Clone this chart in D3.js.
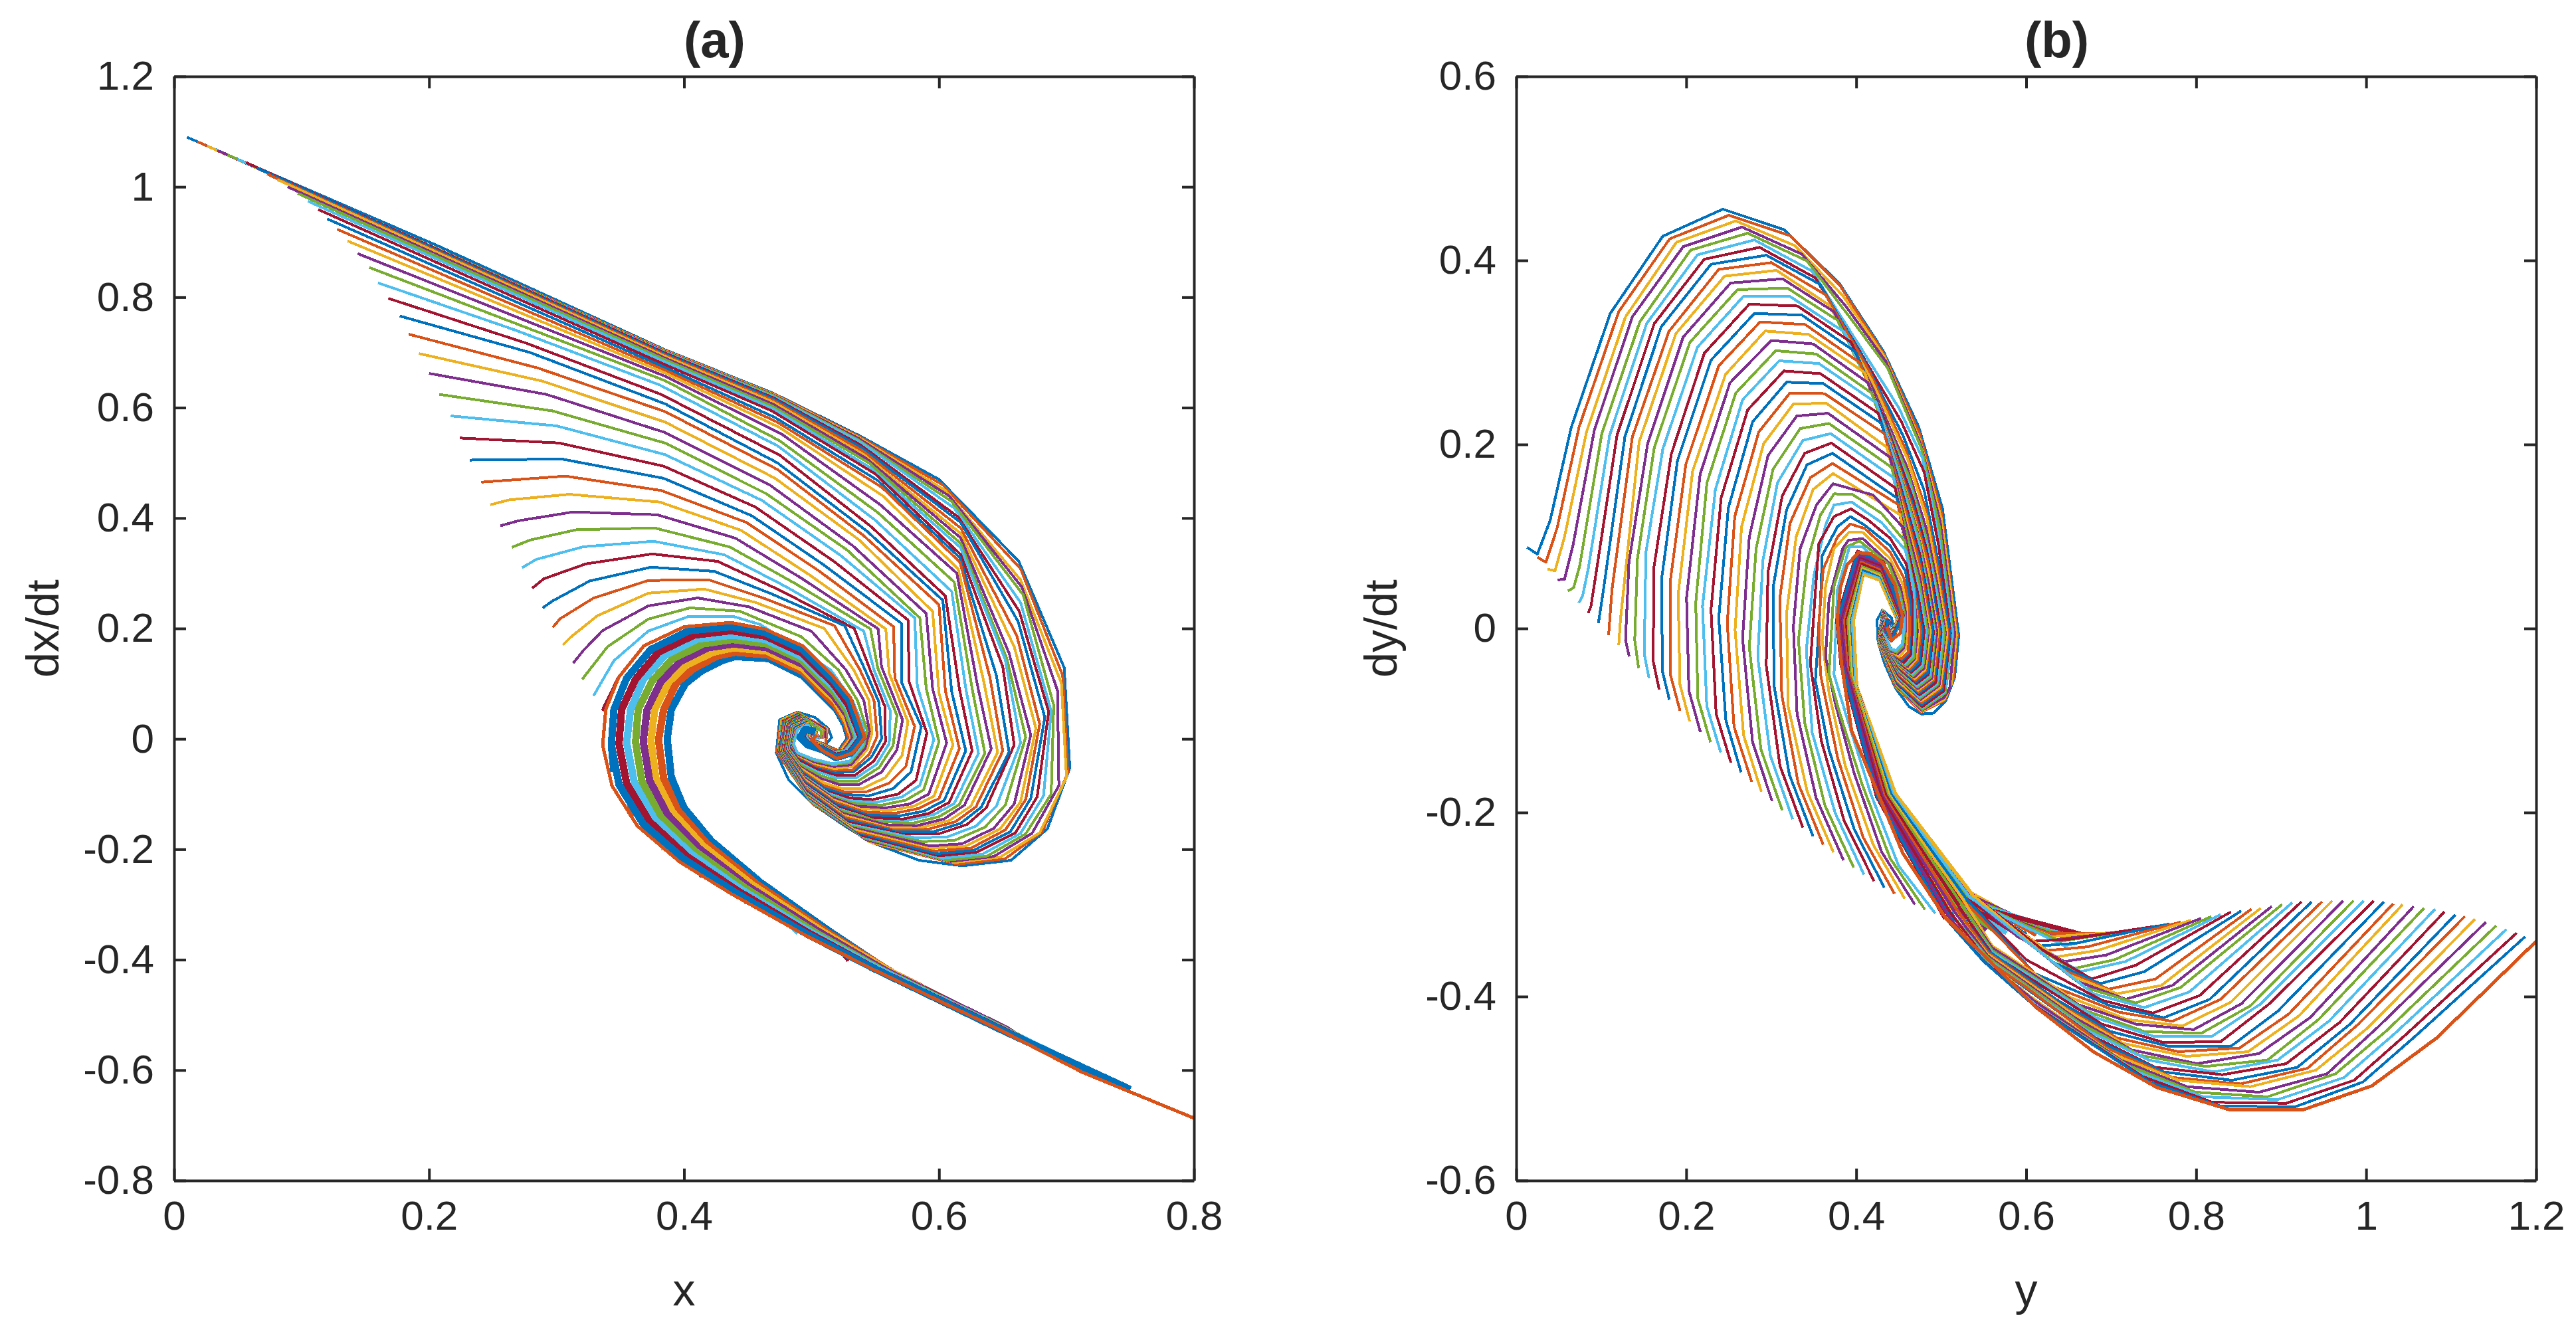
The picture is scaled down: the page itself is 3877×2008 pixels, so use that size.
<!DOCTYPE html>
<html>
<head>
<meta charset="utf-8">
<script src="https://cdn.jsdelivr.net/npm/d3@7"></script>
<style>
  html, body { margin: 0; background: #fff; }
  text { font-family: "Liberation Sans", sans-serif; fill: #262626; }
</style>
</head>
<body>
<div class="chart"></div>
<script>
const lineColors = ['#0072BD', '#D95319', '#EDB120', '#7E2F8E', '#77AC30', '#4DBEEE', '#A2142F'];

const xTicksA = [0, 0.2, 0.4, 0.6, 0.8];
const yTicksA = [-0.8, -0.6, -0.4, -0.2, 0, 0.2, 0.4, 0.6, 0.8, 1, 1.2];
const xTicksB = [0, 0.2, 0.4, 0.6, 0.8, 1, 1.2];
const yTicksB = [-0.6, -0.4, -0.2, 0, 0.2, 0.4, 0.6];

const fanA = [
[.01,1.09,.207,.893,.385,.705,.47,.626,.537,.55,.6,.47,.6626,.3216,.6982,.129,.7026,-.053,.685,-.163,.6565,-.22,.6183,-.23,.5844,-.22,.55,-.19,.5288,-.162,.501,-.118,.482,-.074,.4724,-.0255,.475,.0347,.489,.0487,.5028,.0387,.5132,.0186,.5158,.0026,.5114,-.0094],
[.018,1.082,.385,.704,.47,.625,.537,.548,.603,.46,.664,.308,.697,.115,.701,-.062,.681,-.168,.652,-.217,.615,-.227,.547,-.188,.5,-.116,.473,-.025,.476,.034,.489,.048,.5125,.018,.511,-.009],
[.026,1.074,.385,.703,.47,.624,.537,.546,.605,.45,.664,.288,.696,.101,.7,-.07,.679,-.17,.648,-.214,.612,-.224,.545,-.186,.5,-.114,.474,-.025,.4765,.034,.489,.047,.512,.018,.511,.002],
[.034,1.066,.385,.702,.47,.623,.537,.544,.608,.44,.665,.275,.693,.087,.694,-.085,.673,-.171,.643,-.213,.609,-.222,.543,-.183,.4995,-.113,.4742,-.025,.477,.033,.4893,.046,.511,.018,.5105,.002],
[.042,1.058,.385,.701,.47,.622,.537,.541,.61,.43,.666,.261,.69,.061,.688,-.1,.668,-.172,.638,-.212,.606,-.22,.542,-.18,.499,-.112,.4745,-.025,.477,.033,.4895,.046,.51,.017,.5105,.002],
[.05,1.05,.385,.7,.47,.62,.538,.538,.612,.418,.664,.247,.688,.05,.682,-.103,.664,-.171,.634,-.209,.603,-.216,.541,-.177,.499,-.11,.475,-.025,.4775,.032,.4898,.045,.51,.017,.51,.002],
[.0565,1.044,.385,.699,.47,.618,.538,.533,.615,.402,.663,.231,.686,.049,.677,-.105,.66,-.17,.63,-.205,.6,-.212,.54,-.175,.499,-.108,.475,-.024,.478,.032,.49,.045,.51,.017,.51,.002],
[.065,1.034,.385,.697,.47,.616,.539,.528,.617,.392,.662,.213,.683,.039,.672,-.108,.656,-.168,.627,-.202,.598,-.208,.538,-.171,.4985,-.107,.4755,-.024,.478,.031,.4903,.044,.51,.016,.5095,.002],
[.073,1.023,.385,.695,.47,.613,.54,.522,.617,.382,.661,.187,.679,.027,.668,-.11,.652,-.165,.625,-.198,.597,-.203,.537,-.168,.498,-.105,.476,-.024,.4785,.031,.4905,.044,.51,.016,.5095,.002],
[.081,1.013,.385,.693,.47,.61,.541,.515,.617,.372,.659,.167,.676,.019,.664,-.114,.648,-.163,.621,-.194,.595,-.198,.535,-.164,.4975,-.102,.4762,-.024,.4788,.03,.4908,.043,.509,.016,.509,.001],
[.089,1,.385,.69,.47,.606,.543,.508,.617,.364,.655,.155,.672,.007,.659,-.118,.643,-.162,.618,-.19,.593,-.194,.534,-.16,.497,-.1,.4765,-.024,.479,.03,.491,.043,.509,.015,.509,.001],
[.097,.988,.385,.687,.47,.602,.545,.5,.617,.354,.653,.147,.668,.003,.652,-.12,.636,-.16,.612,-.184,.587,-.186,.532,-.156,.497,-.098,.477,-.024,.4795,.03,.491,.043,.509,.015,.5085,.001],
[.105,.974,.385,.683,.47,.598,.547,.49,.617,.346,.652,.143,.664,-.007,.645,-.122,.629,-.158,.606,-.178,.581,-.179,.531,-.153,.497,-.096,.4772,-.023,.4798,.029,.491,.042,.508,.015,.508,.001],
[.113,.959,.385,.678,.469,.594,.55,.48,.617,.334,.65,.131,.659,-.011,.637,-.125,.622,-.155,.6,-.172,.575,-.172,.53,-.15,.497,-.094,.4775,-.023,.48,.029,.491,.042,.508,.014,.508,.001],
[.12,.942,.385,.673,.4715,.582,.552,.468,.6165,.328,.645,.115,.655,-.024,.633,-.124,.617,-.153,.596,-.168,.571,-.168,.529,-.146,.497,-.092,.4777,-.023,.4805,.029,.4915,.041,.508,.014,.508,.001],
[.128,.923,.385,.668,.473,.574,.555,.456,.6165,.32,.64,.111,.65,-.022,.629,-.123,.613,-.15,.591,-.164,.568,-.164,.528,-.142,.497,-.09,.478,-.022,.481,.028,.4917,.04,.508,.014,.508,.0005],
[.136,.902,.385,.663,.475,.564,.556,.44,.615,.308,.635,.105,.646,-.024,.625,-.122,.608,-.148,.587,-.16,.565,-.16,.527,-.138,.497,-.087,.478,-.022,.481,.028,.492,.04,.508,.014,.508,0],
[.144,.879,.385,.657,.4767,.552,.554,.424,.614,.3,.63,.099,.641,-.018,.62,-.12,.604,-.145,.583,-.157,.561,-.156,.526,-.134,.4968,-.085,.4785,-.022,.4815,.028,.4923,.04,.5075,.014,.5075,0],
[.153,.854,.385,.649,.475,.54,.552,.41,.612,.284,.626,.091,.636,-.026,.616,-.119,.6,-.141,.579,-.153,.557,-.15,.525,-.13,.4965,-.083,.4787,-.0215,.4817,.0275,.4927,.039,.5075,.014,.5072,0],
[.16,.826,.267,.741,.381,.641,.474,.53,.55,.396,.61,.267,.621,.091,.631,-.026,.612,-.117,.596,-.137,.575,-.148,.553,-.145,.523,-.125,.496,-.082,.479,-.021,.482,.027,.493,.038,.507,0],
[.168,.798,.276,.717,.382,.624,.475,.514,.547,.384,.605,.259,.616,.091,.626,-.0215,.608,-.115,.592,-.135,.572,-.145,.55,-.143,.522,-.122,.496,-.08,.479,-.021,.482,.027,.493,.038,.507,0],
[.177,.766,.279,.7,.385,.607,.4733,.5,.5436,.376,.603,.251,.61,.085,.621,-.0215,.604,-.112,.588,-.131,.568,-.14,.547,-.138,.521,-.118,.496,-.078,.4793,-.0208,.4823,.0265,.4933,.0375,.507,0],
[.184,.733,.285,.672,.385,.593,.4733,.488,.541,.368,.6,.243,.605,.087,.616,-.0175,.6,-.108,.584,-.126,.565,-.135,.544,-.133,.52,-.114,.496,-.075,.4795,-.0205,.4825,.026,.4935,.037,.507,0],
[.192,.698,.289,.648,.385,.574,.4715,.472,.5376,.36,.595,.231,.6,.083,.611,-.011,.596,-.104,.58,-.122,.561,-.13,.541,-.127,.519,-.11,.496,-.073,.48,-.02,.483,.0255,.4937,.0365,.507,0],
[.2,.662,.292,.624,.385,.555,.4672,.46,.5323,.35,.59,.227,.595,.091,.606,-.0074,.592,-.1,.577,-.118,.558,-.125,.538,-.122,.518,-.106,.496,-.07,.48,-.02,.483,.025,.494,.036,.507,0],
[.208,.624,.297,.594,.385,.536,.4646,.444,.528,.342,.585,.219,.59,.091,.6,-.0054,.588,-.092,.574,-.111,.555,-.12,.535,-.117,.517,-.102,.4958,-.067,.4803,-.0197,.4833,.0245,.494,.0353,.5065,0],
[.217,.585,.3,.567,.385,.515,.4611,.432,.523,.332,.581,.219,.583,.095,.596,-.0014,.585,-.084,.571,-.105,.551,-.115,.533,-.112,.515,-.098,.4955,-.065,.4807,-.0195,.4837,.024,.494,.0347,.5063,0],
[.224,.545,.302,.536,.384,.494,.4559,.42,.5176,.3215,.5757,.2153,.5766,.103,.5905,.0106,.582,-.075,.568,-.1,.548,-.11,.53,-.107,.514,-.094,.495,-.063,.481,-.019,.484,.024,.494,.034,.506,0],
[.232,.505,.304,.507,.384,.472,.4533,.404,.5106,.3135,.5705,.2093,.5705,.103,.5861,.0227,.578,-.06,.564,-.09,.545,-.103,.528,-.101,.512,-.09,.4948,-.061,.4813,-.0187,.4843,.0235,.4943,.0333,.5058,0],
[.241,.465,.307,.476,.382,.45,.449,.392,.5063,.3035,.5644,.2032,.5653,.111,.5809,.0227,.574,-.05,.561,-.08,.543,-.096,.526,-.096,.511,-.085,.4945,-.058,.4817,-.0183,.4847,.0232,.4947,.0325,.5055,0],
[.248,.424,.263,.433,.31,.443,.381,.429,.4446,.378,.4985,.297,.5583,.199,.5609,.119,.5757,.0307,.571,-.03,.558,-.07,.54,-.09,.524,-.09,.51,-.08,.494,-.055,.482,-.018,.485,.023,.495,.032,.506,0],
[.256,.386,.27,.395,.313,.411,.379,.406,.4403,.3636,.4932,.2894,.5523,.1992,.5549,.131,.5714,.0347,.567,-.02,.555,-.06,.537,-.083,.522,-.083,.508,-.072,.493,-.05,.4825,-.0175,.4855,.0222,.4953,.0312,.5055,0],
[.265,.347,.279,.36,.316,.379,.377,.382,.4359,.3476,.4872,.2814,.5462,.1992,.552,.128,.567,.0427,.564,-.012,.553,-.052,.536,-.077,.521,-.077,.507,-.066,.4925,-.047,.483,-.017,.486,.0215,.4955,.031,.505,0],
[.273,.31,.284,.325,.321,.348,.376,.358,.4316,.3335,.4802,.2754,.541,.1952,.549,.125,.5618,.0507,.561,-.008,.551,-.046,.535,-.071,.52,-.071,.506,-.06,.4925,-.043,.4835,-.0165,.4865,.0208,.4958,.0305,.505,0],
[.281,.273,.29,.29,.323,.317,.375,.335,.4264,.3215,.475,.2694,.5335,.2,.546,.125,.5575,.0588,.558,-.005,.549,-.04,.534,-.066,.52,-.066,.505,-.055,.492,-.04,.484,-.016,.487,.02,.496,.03,.505,0],
[.289,.237,.297,.25,.326,.286,.374,.311,.4237,.3035,.468,.2633,.526,.205,.542,.125,.553,.066,.555,0,.547,-.033,.533,-.06,.519,-.061,.504,-.05,.491,-.035,.4843,-.0145,.4873,.0195,.4963,.0292,.505,0],
[.297,.202,.303,.218,.329,.255,.372,.287,.4194,.2882,.462,.2553,.518,.205,.538,.125,.549,.07,.5515,.005,.5455,-.027,.5325,-.056,.5185,-.057,.5035,-.048,.4905,-.032,.4848,-.013,.4878,.0188,.4967,.0285,.505,0],
[.305,.17,.311,.184,.332,.223,.372,.264,.4159,.2714,.4559,.2473,.51,.2,.533,.125,.545,.07,.5475,.01,.5435,-.02,.532,-.05,.518,-.054,.503,-.045,.49,-.03,.485,-.012,.488,.018,.497,.028,.505,0],
[.313,.137,.321,.16,.336,.196,.372,.241,.4107,.2553,.4507,.2393,.5,.195,.527,.125,.541,.07,.5455,.013,.542,-.017,.531,-.047,.5175,-.05,.5025,-.042,.4895,-.028,.4853,-.0115,.4883,.0172,.4973,.0272,.505,0],
[.32,.1075,.34,.167,.372,.217,.4046,.2373,.4437,.2313,.492,.185,.521,.125,.536,.07,.5435,.016,.541,-.013,.5305,-.043,.5172,-.047,.5022,-.039,.4892,-.026,.4857,-.0105,.4887,.0165,.4973,.0265,.505,0],
[.329,.078,.345,.1416,.372,.1954,.4029,.2212,.4394,.2212,.46,.207,.485,.17,.515,.125,.532,.07,.541,.02,.5405,-.01,.53,-.04,.517,-.045,.502,-.037,.489,-.025,.486,-.01,.489,.016,.497,.026,.505,0]
];

// dense tail band of panel (a): nine nested paths from its lower edge to its inner edge
const bandLevelsA = [
[.646,-.525,.546,-.415,.493,-.353,.4366,-.28,.3967,-.223,.3635,-.158,.3435,-.085,.3362,-.012,.3386,.053,.3486,.111,.3685,.1685,.4,.203,.4366,.2107,.463,.1992,.493,.1685,.5164,.1148,.5306,.0748,.5418,.0026,.5323,-.0255,.52,-.0355,.5088,-.0215,.497,-.012,.49,.002,.494,.018,.503,.015],
[.647,-.525,.549,-.416,.496,-.353,.44,-.278,.4,-.218,.368,-.154,.349,-.083,.343,-.011,.345,.053,.355,.11,.374,.162,.404,.196,.437,.203,.463,.193,.493,.162,.517,.107,.53,.069,.54,.002,.531,-.0255,.519,-.034,.509,-.02,.497,-.011,.491,.003,.495,.017,.503,.014],
[.648,-.525,.551,-.418,.498,-.352,.442,-.275,.403,-.214,.373,-.15,.355,-.081,.349,-.009,.351,.053,.362,.108,.38,.157,.408,.188,.437,.196,.464,.186,.493,.155,.517,.1,.529,.062,.539,.002,.53,-.0255,.519,-.032,.509,-.019,.4975,-.01,.492,.003,.495,.017,.503,.013],
[.649,-.525,.554,-.419,.501,-.352,.445,-.273,.406,-.209,.377,-.146,.361,-.079,.355,-.007,.358,.053,.368,.107,.385,.151,.411,.181,.438,.188,.464,.18,.493,.148,.518,.092,.529,.056,.537,.002,.528,-.0255,.518,-.03,.509,-.018,.498,-.01,.493,.004,.496,.016,.5035,.012],
[.65,-.525,.556,-.42,.504,-.352,.448,-.27,.409,-.204,.382,-.142,.367,-.077,.362,-.006,.364,.053,.375,.105,.391,.145,.415,.172,.438,.18,.465,.172,.493,.142,.518,.084,.528,.05,.536,.001,.527,-.0255,.5175,-.028,.5085,-.017,.498,-.0085,.4935,.004,.497,.016,.5035,.0115],
[.652,-.525,.559,-.421,.507,-.351,.451,-.268,.412,-.199,.387,-.137,.373,-.075,.368,-.004,.371,.053,.382,.104,.397,.14,.419,.165,.439,.172,.465,.165,.493,.135,.518,.076,.528,.044,.534,.001,.526,-.0255,.517,-.026,.5085,-.016,.4985,-.008,.494,.005,.4975,.015,.5035,.0105],
[.653,-.525,.562,-.422,.51,-.351,.454,-.265,.415,-.194,.391,-.133,.378,-.073,.374,-.003,.377,.053,.388,.103,.402,.134,.423,.157,.439,.165,.465,.159,.493,.128,.519,.069,.527,.037,.533,.001,.524,-.0255,.516,-.024,.508,-.014,.499,-.007,.495,.005,.498,.015,.504,.01],
[.654,-.525,.564,-.424,.512,-.35,.457,-.263,.418,-.19,.395,-.129,.384,-.071,.38,-.002,.384,.053,.394,.101,.408,.128,.426,.15,.44,.157,.466,.152,.493,.122,.519,.061,.527,.031,.531,0,.523,-.0255,.516,-.022,.508,-.013,.4995,-.006,.4965,.005,.499,.014,.504,.009],
[.655,-.525,.567,-.425,.515,-.35,.46,-.26,.4215,-.185,.4,-.125,.39,-.0694,.3868,0,.39,.0534,.401,.1,.4134,.1224,.43,.142,.44,.149,.4665,.1455,.493,.1148,.5197,.0534,.5265,.025,.5297,0,.5219,-.0255,.515,-.02,.508,-.012,.4995,-.005,.497,.006,.4995,.014,.504,.008]
];
// start x, start y, level, first point taken from that level
const bandRowsA = [
[.336,.051,0,9],[.345,-.06,1,7],[.36,-.14,2,6],[.385,-.2,3,5],[.415,-.25,4,4],[.45,-.3,5,3],[.49,-.35,6,3],[.53,-.4,7,2],
[.58,-.45,8,2],[.62,-.49,7,1],[.64,-.515,6,1],[.66,-.537,5,0],[.68,-.56,4,0],[.7,-.582,3,0],[.72,-.605,2,0],[.75,-.635,1,0]
];
const lastA = [.8,-.687,.7125,-.604,.646,-.525,.546,-.415,.493,-.353,.4366,-.28,.3967,-.223,.3635,-.158,.3435,-.085,.3362,-.012,.3386,.053,.3486,.111,.3685,.1685,.4,.203,.4366,.2107,.463,.1992,.493,.1685,.5164,.1148,.5306,.0748,.5418,.0026,.5323,-.0255,.52,-.0355,.5088,-.0215,.5,-.0014,.5045,.0066];

const fanB = [
[.0129,.0881,.0249,.0808,.04,.1176,.0648,.2189,.1106,.3423,.1724,.4263,.2431,.4557,.3148,.4336,.3799,.3754,.4317,.3018,.4736,.2189,.5015,.1305,.5207,-.0076,.5158,-.0534,.5053,-.0787,.491,-.092,.4767,-.093,.4623,-.085,.4467,-.0655,.4337,-.039,.4258,-.015,.4245,.009,.431,.02,.4415,.0115,.4441,.002,.4389,-.0053],
[.0249,.0775,.0348,.072,.048,.1087,.074,.2191,.1206,.3443,.1805,.4234,.2503,.4491,.3221,.427,.381,.3725,.4325,.2985,.4745,.212,.5,.127,.519,-.007,.514,-.056,.5045,-.078,.4765,-.091,.4467,-.064,.426,-.015,.4312,.02,.4412,.002],
[.0368,.0646,.0456,.0627,.0568,.0995,.0827,.2136,.1286,.3387,.1885,.4197,.2583,.4429,.3281,.416,.384,.362,.4335,.295,.475,.205,.5,.12,.518,-.007,.512,-.06,.504,-.077,.477,-.09,.447,-.063,.4262,-.015,.4313,.02,.441,.002],
[.0488,.0528,.0568,.0535,.0668,.0903,.0919,.2155,.1366,.3387,.1964,.4149,.2655,.4363,.3361,.4068,.388,.35,.435,.29,.476,.2,.499,.115,.516,-.006,.51,-.065,.5035,-.075,.4775,-.089,.4472,-.0625,.4263,-.014,.4314,.019,.441,.002],
[.0608,.0407,.0676,.0443,.0747,.0682,.1007,.2118,.1454,.3332,.2052,.4112,.2723,.4296,.3421,.3995,.395,.335,.437,.283,.477,.195,.498,.11,.514,-.005,.505,-.07,.478,-.088,.4475,-.062,.4265,-.014,.4315,.019,.4408,.002],
[.0736,.0278,.078,.0351,.0847,.0646,.1099,.21,.1534,.3314,.2132,.4061,.2802,.4223,.3481,.3884,.402,.31,.45,.24,.478,.185,.497,.1,.513,-.005,.504,-.069,.478,-.086,.448,-.061,.4267,-.014,.4316,.019,.4406,.002],
[.0847,.0167,.0879,.0241,.0947,.0646,.1186,.21,.1625,.3314,.2212,.4013,.2862,.4142,.352,.381,.405,.3,.453,.225,.48,.17,.497,.09,.511,-.005,.503,-.068,.4775,-.085,.4483,-.06,.4268,-.0135,.4317,.0185,.4405,.001],
[.0967,.0057,.1027,.0425,.1278,.2081,.1705,.3277,.2292,.3958,.2942,.4057,.358,.3737,.41,.29,.455,.21,.48,.15,.495,.08,.51,-.005,.5015,-.066,.4772,-.083,.4487,-.059,.427,-.0135,.4318,.018,.4405,.001],
[.1087,-.0072,.1127,.0425,.1366,.2081,.1797,.3229,.2383,.3903,.3002,.3976,.364,.3627,.415,.28,.458,.195,.482,.13,.495,.07,.508,-.005,.5,-.065,.477,-.081,.449,-.058,.427,-.013,.432,.018,.4403,.001],
[.1206,-.0182,.1226,.0094,.1446,.2026,.1877,.3203,.2451,.3829,.3062,.3892,.368,.3516,.418,.27,.46,.185,.483,.12,.495,.06,.507,-.005,.4988,-.064,.4765,-.079,.4493,-.057,.4272,-.013,.432,.018,.4402,.001],
[.1329,-.0305,.1286,-.0127,.1326,.0719,.1546,.2007,.1964,.3167,.2523,.3755,.3134,.38,.3739,.3442,.42,.26,.46,.175,.482,.11,.494,.055,.505,-.005,.4975,-.062,.476,-.077,.4497,-.055,.4275,-.0125,.432,.0175,.44,.001],
[.144,-.043,.1394,-.0127,.1426,.0756,.1625,.197,.2044,.3111,.2603,.3682,.3189,.37,.378,.335,.423,.25,.462,.165,.482,.1,.493,.05,.504,-.005,.4962,-.061,.4755,-.0755,.45,-.054,.4277,-.012,.432,.017,.44,.001],
[.1562,-.054,.1506,-.0274,.1526,.083,.1725,.1952,.2132,.3056,.2671,.3608,.3221,.3608,.386,.3222,.428,.24,.465,.15,.483,.09,.493,.045,.502,-.005,.495,-.06,.475,-.074,.45,-.053,.428,-.012,.432,.017,.44,.001],
[.1682,-.0665,.1613,-.036,.1617,.0646,.1825,.1897,.2212,.299,.2742,.3524,.3309,.3505,.394,.3111,.433,.228,.467,.14,.483,.085,.492,.04,.5,-.004,.4935,-.059,.4745,-.0722,.4503,-.052,.4282,-.012,.4322,.017,.44,.001],
[.1802,-.0775,.1718,-.0457,.1713,.0554,.1897,.1823,.2292,.2916,.2802,.3424,.3361,.3406,.4,.3001,.437,.215,.468,.13,.484,.075,.491,.035,.499,-.004,.492,-.057,.474,-.0705,.4507,-.051,.4283,-.0115,.4323,.0165,.44,0],
[.1927,-.0894,.1817,-.0513,.1813,.0517,.1996,.1787,.2383,.2854,.287,.3332,.3401,.3303,.404,.289,.44,.205,.47,.12,.485,.07,.49,.03,.498,-.004,.491,-.056,.4735,-.069,.451,-.05,.4284,-.011,.4324,.0163,.44,0],
[.2041,-.101,.1927,-.061,.1905,.037,.2076,.1713,.2463,.2762,.293,.3233,.3441,.3196,.41,.278,.443,.195,.47,.115,.485,.06,.496,-.004,.49,-.055,.473,-.067,.451,-.049,.4285,-.011,.4325,.016,.44,0],
[.2167,-.1126,.2032,-.0678,.2004,.0333,.2164,.1676,.2515,.267,.3002,.313,.3493,.3093,.4139,.267,.446,.185,.472,.105,.485,.05,.495,-.004,.489,-.054,.4725,-.0655,.451,-.048,.4287,-.011,.4327,.016,.44,0],
[.2286,-.1237,.2137,-.0761,.2112,.0278,.2244,.1584,.2583,.2559,.3054,.3019,.3532,.2983,.4179,.256,.449,.175,.473,.1,.484,.045,.493,-.004,.4875,-.053,.472,-.0638,.451,-.0465,.4288,-.0105,.4328,.0155,.44,0],
[.2406,-.1347,.2242,-.0844,.2192,.0241,.2343,.151,.2663,.2486,.3094,.2909,.356,.288,.4239,.2449,.451,.165,.474,.09,.484,.04,.492,-.004,.486,-.0515,.4715,-.062,.451,-.045,.429,-.01,.433,.015,.44,0],
[.2526,-.1458,.2352,-.0927,.2292,.0204,.2411,.1419,.2723,.2375,.315,.2799,.358,.2769,.4259,.2339,.452,.155,.475,.08,.484,.035,.491,-.004,.485,-.05,.471,-.06,.451,-.044,.429,-.01,.433,.015,.44,0],
[.2646,-.1563,.2466,-.0996,.2383,.0112,.2495,.1308,.2782,.2247,.3181,.2677,.3612,.2662,.4299,.2228,.454,.145,.476,.07,.49,-.004,.484,-.048,.4705,-.058,.451,-.043,.4293,-.01,.4332,.0148,.44,0],
[.2771,-.1668,.2562,-.1065,.2483,.0057,.2571,.1216,.2854,.2136,.3221,.2559,.3628,.2552,.433,.2118,.456,.135,.476,.065,.488,-.004,.482,-.046,.4695,-.056,.451,-.042,.4296,-.01,.4332,.0145,.44,0],
[.2885,-.1775,.2675,-.1162,.2575,-.0017,.2651,.1106,.291,.2007,.3261,.2438,.3648,.2449,.4358,.1971,.457,.125,.475,.06,.487,-.003,.481,-.045,.4688,-.0545,.451,-.041,.4298,-.01,.4332,.0143,.44,0],
[.301,-.1875,.278,-.1231,.2663,-.0109,.2742,.0995,.2962,.1879,.3301,.2309,.3668,.2339,.4398,.186,.458,.115,.475,.055,.485,-.003,.48,-.043,.468,-.053,.451,-.04,.43,-.01,.433,.014,.44,0],
[.313,-.1977,.2879,-.1314,.2742,-.0201,.2822,.0866,.3022,.1732,.3341,.2173,.368,.2228,.4418,.175,.459,.105,.474,.05,.484,-.003,.4785,-.0415,.467,-.0512,.4507,-.039,.4303,-.0098,.4332,.0137,.44,0],
[.3253,-.2074,.299,-.1383,.2842,-.0311,.2902,.0738,.3074,.1584,.3373,.2044,.37,.2118,.4438,.164,.459,.095,.473,.045,.482,-.003,.477,-.04,.466,-.0495,.4505,-.038,.4305,-.0095,.4332,.0135,.44,0],
[.3373,-.2165,.3103,-.1493,.2942,-.0403,.2962,.0609,.3129,.1437,.3393,.1904,.3708,.2015,.4458,.1529,.46,.09,.472,.04,.48,-.003,.4755,-.0385,.465,-.0478,.4503,-.037,.4308,-.0092,.4333,.0132,.44,0],
[.3492,-.2259,.3214,-.159,.3034,-.0623,.3022,.0443,.3181,.129,.3421,.1779,.372,.1904,.4478,.1419,.46,.08,.471,.035,.478,-.003,.474,-.037,.464,-.046,.45,-.036,.431,-.009,.4335,.013,.44,0],
[.3612,-.235,.3319,-.1687,.3124,-.072,.3102,.0333,.3221,.1143,.3461,.1639,.372,.1794,.4498,.1345,.461,.075,.47,.03,.476,-.003,.472,-.0355,.4628,-.0445,.4495,-.035,.4313,-.0088,.4336,.0128,.44,0],
[.3732,-.2433,.3423,-.177,.3199,-.0844,.3181,.0167,.3293,.0995,.3493,.1511,.3728,.1684,.4518,.1235,.463,.065,.474,-.003,.4703,-.034,.4615,-.043,.449,-.034,.4315,-.0085,.4337,.0125,.44,0],
[.3851,-.2521,.3528,-.1839,.3304,-.0927,.3261,.002,.334,.0867,.3532,.1342,.3728,.1573,.42,.145,.455,.11,.466,.055,.472,-.003,.4688,-.033,.4603,-.0415,.4485,-.033,.4318,-.0082,.4338,.0122,.44,0],
[.3971,-.2599,.3632,-.1924,.3394,-.1024,.3321,-.0127,.3421,.072,.358,.1235,.3739,.1463,.3959,.1455,.43,.125,.457,.095,.468,.045,.47,-.002,.468,-.032,.459,-.04,.448,-.032,.432,-.008,.434,.012,.44,0],
[.4091,-.2673,.3753,-.2007,.3483,-.1134,.3413,-.0237,.3501,.0572,.364,.1124,.3739,.1342,.3947,.1374,.43,.115,.458,.085,.468,.04,.468,-.002,.466,-.03,.4575,-.0385,.447,-.031,.4323,-.0078,.4342,.0118,.44,0],
[.421,-.2745,.3857,-.2088,.3588,-.1217,.3461,-.0384,.352,.04,.356,.0922,.3739,.1216,.3938,.13,.4138,.118,.44,.098,.459,.07,.466,.03,.466,-.002,.464,-.029,.456,-.037,.446,-.03,.4325,-.0075,.4342,.0115,.44,0],
[.433,-.2815,.3977,-.2184,.3678,-.1314,.352,-.0569,.358,.03,.36,.0793,.378,.1106,.3931,.1216,.4099,.1124,.44,.09,.458,.062,.464,.028,.464,-.002,.462,-.0275,.4545,-.0345,.445,-.029,.4328,-.0072,.4343,.0112,.44,0],
[.445,-.2883,.4082,-.227,.3783,-.1411,.358,-.05,.356,.0057,.3612,.0646,.378,.0995,.3931,.1135,.4099,.1087,.44,.083,.456,.055,.462,.025,.463,-.002,.461,-.026,.453,-.033,.444,-.028,.433,-.007,.4345,.011,.44,0],
[.457,-.2936,.42,-.235,.3872,-.1493,.368,-.07,.36,-.0127,.364,.0462,.3739,.0867,.3919,.105,.4079,.1043,.44,.076,.454,.05,.46,.02,.46,-.002,.458,-.023,.451,-.0305,.443,-.026,.4333,-.0067,.4346,.0107,.44,0],
[.469,-.3,.43,-.243,.3977,-.1576,.375,-.08,.364,-.0311,.368,.0315,.384,.0867,.3908,.0959,.4079,.0977,.44,.07,.452,.045,.458,.018,.458,-.002,.456,-.021,.449,-.0275,.4415,-.0245,.4337,-.0065,.4347,.0104,.44,0],
[.4809,-.3055,.44,-.25,.4067,-.1687,.38,-.09,.368,-.05,.3739,.0462,.388,.0885,.4039,.0951,.438,.07,.451,.04,.457,.015,.457,-.002,.455,-.019,.448,-.026,.4408,-.023,.4338,-.0062,.4348,.0102,.44,0],
[.4929,-.3096,.45,-.258,.4171,-.1797,.39,-.1,.3739,-.05,.378,.0425,.392,.0885,.4079,.0885,.436,.065,.45,.037,.456,.012,.456,-.002,.454,-.017,.447,-.024,.44,-.022,.434,-.006,.435,.01,.44,0]
];

// neck and inner spiral of panel (b): eleven nested paths from the lower edge to the inner edge
const bandLevelsB = [
[.505,-.315,.425,-.183,.383,-.039,.378,.009,.402,.083,.431,.072,.4545,.014,.4415,-.0125,.435,-.003,.4365,.009,.4405,.004],
[.508,-.312,.427,-.183,.385,-.039,.38,.009,.403,.08,.431,.07,.454,.0135,.4415,-.012,.435,-.003,.4365,.009,.4405,.004],
[.511,-.309,.429,-.182,.386,-.04,.381,.009,.4035,.078,.4305,.068,.4535,.013,.4414,-.0115,.435,-.003,.4365,.009,.4405,.004],
[.514,-.306,.431,-.182,.388,-.042,.383,.009,.404,.076,.43,.066,.453,.0125,.4413,-.011,.4355,-.003,.437,.008,.4405,.004],
[.517,-.304,.433,-.182,.39,-.045,.385,.009,.4045,.074,.43,.064,.4525,.012,.4413,-.0105,.4355,-.003,.437,.008,.4405,.004],
[.52,-.301,.435,-.181,.391,-.048,.387,.009,.405,.071,.43,.062,.452,.0115,.4412,-.01,.436,-.002,.4375,.008,.4405,.004],
[.523,-.298,.437,-.181,.393,-.05,.389,.009,.4055,.069,.4295,.06,.4515,.011,.4412,-.0098,.436,-.002,.4375,.008,.4405,.004],
[.526,-.295,.439,-.181,.395,-.052,.391,.009,.406,.067,.4295,.058,.451,.0105,.4411,-.0095,.4365,-.002,.438,.007,.4405,.004],
[.529,-.293,.441,-.18,.396,-.055,.392,.009,.4065,.064,.429,.057,.4505,.01,.4411,-.009,.4365,-.002,.438,.007,.4405,.004],
[.532,-.29,.443,-.18,.398,-.06,.394,.009,.407,.062,.429,.055,.45,.0095,.441,-.0085,.437,-.001,.4385,.007,.4405,.004],
[.535,-.288,.4456,-.18,.3998,-.063,.396,.009,.4076,.06,.4285,.053,.4493,.009,.441,-.008,.437,-.001,.4385,.007,.4405,.004]
];
const bandRowsB = [
[.5048,-.3151,0,1],[.517,-.318,1,1],[.529,-.323,2,1],[.541,-.326,3,0],[.553,-.328,4,0],[.565,-.33,5,0],[.577,-.331,6,0],[.589,-.332,7,0],
[.6,-.333,8,0],[.612,-.333,9,0],[.624,-.334,10,0],[.636,-.334,9,0],[.648,-.334,8,0],[.66,-.334,7,0],[.672,-.334,6,0]
];

// right hand fan of panel (b), the row ends where it joins the neck
const hillB = [
[.684,-.333,.62,-.33],
[.697,-.332,.625,-.331],
[.709,-.33,.63,-.335],
[.721,-.329,.635,-.338],
[.733,-.327,.64,-.34],
[.745,-.325,.645,-.345],
[.757,-.323,.649,-.338,.605,-.34],
[.769,-.321,.659,-.342,.615,-.345],
[.782,-.319,.672,-.346,.625,-.35],
[.794,-.317,.684,-.35,.635,-.357],
[.806,-.315,.694,-.355,.645,-.362,.59,-.335],
[.818,-.313,.704,-.36,.654,-.37,.6,-.34],
[.829,-.311,.717,-.362,.664,-.373,.61,-.345],
[.841,-.308,.729,-.366,.677,-.381,.62,-.35],
[.853,-.307,.739,-.373,.687,-.386,.63,-.362],
[.865,-.305,.752,-.381,.697,-.392,.639,-.369],
[.876,-.304,.759,-.388,.707,-.397,.649,-.376],
[.889,-.302,.772,-.388,.717,-.403,.659,-.383],
[.901,-.3,.782,-.39,.729,-.407,.669,-.39],
[.913,-.298,.792,-.395,.739,-.412,.679,-.397],
[.924,-.297,.804,-.399,.749,-.418,.689,-.404,.6,-.36],
[.936,-.297,.816,-.403,.762,-.423,.699,-.41,.61,-.375],
[.948,-.297,.829,-.403,.772,-.427,.709,-.417,.62,-.385],
[.96,-.296,.841,-.406,.784,-.432,.719,-.425,.652,-.401,.56,-.345],
[.973,-.296,.853,-.408,.797,-.436,.729,-.43,.662,-.409,.56,-.347],
[.985,-.296,.864,-.41,.806,-.44,.739,-.438,.672,-.416,.56,-.35],
[.997,-.296,.876,-.408,.819,-.443,.749,-.443,.682,-.423,.56,-.352],
[1.009,-.296,.886,-.408,.829,-.449,.762,-.45,.689,-.43,.56,-.354],
[1.021,-.297,.896,-.416,.841,-.454,.767,-.454,.699,-.438,.635,-.403,.555,-.35],
[1.032,-.299,.909,-.419,.851,-.456,.779,-.46,.707,-.445,.642,-.41,.555,-.352],
[1.043,-.3,.921,-.421,.861,-.46,.789,-.465,.714,-.451,.65,-.416,.555,-.354],
[1.056,-.302,.934,-.423,.874,-.462,.801,-.473,.724,-.458,.657,-.423,.555,-.356],
[1.068,-.304,.944,-.425,.884,-.469,.811,-.476,.734,-.464,.665,-.43,.555,-.358],
[1.081,-.305,.956,-.427,.896,-.469,.821,-.482,.744,-.469,.672,-.437,.555,-.36],
[1.092,-.308,.969,-.428,.906,-.473,.831,-.485,.752,-.477,.68,-.444,.553,-.36],
[1.105,-.311,.981,-.43,.919,-.477,.842,-.491,.762,-.482,.688,-.45,.553,-.36],
[1.116,-.313,.991,-.43,.931,-.478,.852,-.495,.772,-.488,.695,-.456,.6,-.39,.553,-.36],
[1.128,-.316,1.002,-.434,.941,-.48,.864,-.498,.779,-.491,.703,-.463,.605,-.4,.552,-.36],
[1.141,-.319,1.013,-.434,.954,-.484,.874,-.504,.789,-.498,.711,-.469,.61,-.405,.552,-.361],
[1.153,-.323,1.023,-.438,.964,-.484,.884,-.509,.799,-.504,.72,-.475,.612,-.41,.552,-.361],
[1.165,-.327,1.034,-.44,.974,-.488,.896,-.512,.808,-.509,.728,-.481,.612,-.41,.551,-.361],
[1.177,-.331,1.046,-.442,.986,-.491,.906,-.516,.819,-.515,.737,-.487,.612,-.411,.551,-.362],
[1.187,-.335,1.058,-.443,.996,-.493,.916,-.52,.828,-.519,.745,-.493,.612,-.412,.55,-.362]
];
const hillLevelsB = [6,6,7,7,8,8,8,9,9,9,9,10,10,10,10,10,10,9,9,9,8,8,7,7,6,6,5,5,4,4,3,3,2,2,2,1,1,1,1,0,0,0,0];
const lastB = [1.2,-.34,1.083,-.445,1.007,-.497,.926,-.523,.839,-.523,.754,-.499,.679,-.46,.612,-.412,.55,-.355,.505,-.3145,.455,-.2445,.42,-.167,.3946,-.111,.3828,-.039,.3776,.009,.3815,.045,.3893,.069,.4024,.0825,.4167,.0813,.431,.0717,.4454,.0476,.4545,.014,.4519,-.0053,.4415,-.0125,.4363,.0019];

const bandRow = (levels, [sx, sy, level, first]) => [sx, sy].concat(levels[level].slice(first * 2));

// stroke widths: the bands are so tight in the picture that they read as solid, so they get a wider pen
const curvesA = fanA.map(r => ({row: r, width: 4}))
  .concat(bandRowsA.map(r => ({row: bandRow(bandLevelsA, r), width: r[2] === 0 ? 5 : 11})))
  .concat([{row: lastA, width: 5}]);

const curvesB = fanB.map(r => ({row: r, width: 4}))
  .concat(bandRowsB.map(r => ({row: bandRow(bandLevelsB, r), width: 7})))
  .concat(hillB.map((r, i) => ({row: r.concat(bandLevelsB[hillLevelsB[i]]), width: 4})))
  .concat([{row: lastB, width: 5}]);

const chartWidth = 3877;
const chartHeight = 2008;

const svg = d3.select('.chart')
  .append('svg')
  .attr('width', chartWidth)
  .attr('height', chartHeight)
  .style('display', 'block')
  .style('background', '#fff');

const toPoints = row => d3.range(row.length / 2).map(i => [row[2 * i], row[2 * i + 1]]);

const formatTick = d => String(d);

const drawPanel = ({left, right, top, bottom, xDomain, yDomain, xTicks, yTicks, curves, title, xLabel, yLabel, yLabelX}) => {
  const xScale = d3.scaleLinear().domain(xDomain).range([left, right]);
  const yScale = d3.scaleLinear().domain(yDomain).range([bottom, top]);

  const line = d3.line()
    .x(d => xScale(d[0]))
    .y(d => yScale(d[1]));

  svg.append('g')
    .selectAll('path')
    .data(curves)
    .enter()
    .append('path')
    .attr('d', d => line(toPoints(d.row)))
    .attr('fill', 'none')
    .attr('stroke', (d, i) => lineColors[i % lineColors.length])
    .attr('stroke-width', d => d.width)
    .attr('stroke-linejoin', 'round')
    .attr('shape-rendering', 'crispEdges');

  const tickSize = 18;
  const styleAxis = (g) => {
    g.selectAll('path, line').attr('stroke', '#262626').attr('stroke-width', 4);
    g.selectAll('text')
      .attr('font-size', 62)
      .attr('font-family', '"Liberation Sans", sans-serif')
      .attr('fill', '#262626');
  };

  svg.append('g')
    .attr('transform', `translate(0, ${bottom})`)
    .call(d3.axisBottom(xScale).tickValues(xTicks).tickSize(-tickSize).tickSizeOuter(0).tickPadding(30).tickFormat(formatTick))
    .call(styleAxis);
  svg.append('g')
    .attr('transform', `translate(0, ${top})`)
    .call(d3.axisTop(xScale).tickValues(xTicks).tickSize(-tickSize).tickSizeOuter(0).tickFormat(''))
    .call(styleAxis);
  svg.append('g')
    .attr('transform', `translate(${left}, 0)`)
    .call(d3.axisLeft(yScale).tickValues(yTicks).tickSize(-tickSize).tickSizeOuter(0).tickPadding(30).tickFormat(formatTick))
    .call(styleAxis);
  svg.append('g')
    .attr('transform', `translate(${right}, 0)`)
    .call(d3.axisRight(yScale).tickValues(yTicks).tickSize(-tickSize).tickSizeOuter(0).tickFormat(''))
    .call(styleAxis);

  const centerX = (left + right) / 2;
  const centerY = (top + bottom) / 2;

  svg.append('text')
    .attr('x', centerX + 46)
    .attr('y', 86)
    .attr('text-anchor', 'middle')
    .attr('font-size', 76)
    .attr('font-weight', 'bold')
    .text(title);

  svg.append('text')
    .attr('x', centerX)
    .attr('y', 1965)
    .attr('text-anchor', 'middle')
    .attr('font-size', 68)
    .text(xLabel);

  svg.append('text')
    .attr('transform', `translate(${yLabelX}, ${centerY}) rotate(-90)`)
    .attr('text-anchor', 'middle')
    .attr('font-size', 68)
    .text(yLabel);
};

drawPanel({
  left: 262, right: 1797, top: 115, bottom: 1777,
  xDomain: [0, 0.8], yDomain: [-0.8, 1.2],
  xTicks: xTicksA, yTicks: yTicksA,
  curves: curvesA,
  title: '(a)', xLabel: 'x', yLabel: 'dx/dt', yLabelX: 88
});

drawPanel({
  left: 2282, right: 3817, top: 115, bottom: 1777,
  xDomain: [0, 1.2], yDomain: [-0.6, 0.6],
  xTicks: xTicksB, yTicks: yTicksB,
  curves: curvesB,
  title: '(b)', xLabel: 'y', yLabel: 'dy/dt', yLabelX: 2102
});
</script>
</body>
</html>
